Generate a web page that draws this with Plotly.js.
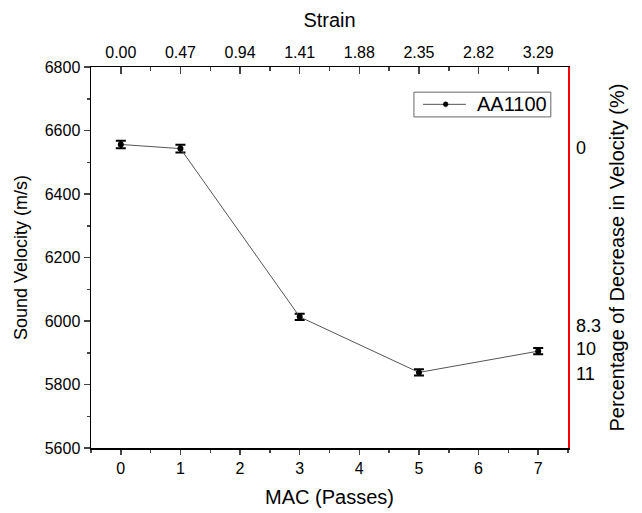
<!DOCTYPE html>
<html><head><meta charset="utf-8">
<script src="https://cdn.plot.ly/plotly-3.0.1.min.js"></script>
<style>html,body{margin:0;padding:0;background:#fff}</style>
</head><body><div id="chart" style="width:642px;height:513px"></div>
<script>
const passes = [0, 1, 3, 5, 7];
const velocity = [6556, 6543, 6013, 5838, 5905];
const velocityErr = [12, 12, 10, 10, 10];
const seriesName = 'AA1100';
const strainTickVals = [0, 1, 2, 3, 4, 5, 6, 7];
const strainLabels = ['0.00', '0.47', '0.94', '1.41', '1.88', '2.35', '2.82', '3.29'];
const decreaseVals = [6545, 5984, 5912, 5833];
const decreaseLabels = ['0', '8.3', '10', '11'];

const F = 'Liberation Sans, Arial, sans-serif';
const traces = [
  {x: passes, y: velocity, name: seriesName, type: 'scatter', mode: 'lines+markers', showlegend: false,
   line: {color: '#555', width: 1}, marker: {color: '#000', size: 6},
   error_y: {type: 'data', array: velocityErr, visible: true, color: '#000', thickness: 2, width: 5}},
  {x: [0], y: [6556], xaxis: 'x2', yaxis: 'y2', showlegend: false, mode: 'markers',
   marker: {opacity: 0}, hoverinfo: 'skip'}
];
// manual legend (box, sample line, sample marker, label) in paper coordinates
const legendShapes = [
  {type: 'rect', xref: 'paper', yref: 'paper', x0: 0.677, x1: 0.964, y0: 0.869, y1: 0.934,
   line: {color: '#666', width: 1}, fillcolor: '#fff'},
  {type: 'line', xref: 'paper', yref: 'paper', x0: 0.696, x1: 0.786, y0: 0.902, y1: 0.902,
   line: {color: '#555', width: 1}},
  {type: 'circle', xref: 'paper', yref: 'paper', x0: 0.7385, x1: 0.7485, y0: 0.8955, y1: 0.9085,
   line: {color: '#000', width: 0.5}, fillcolor: '#000'}
];
const layout = {
  width: 642, height: 513,
  margin: {l: 91, r: 74, t: 67, b: 65},
  paper_bgcolor: '#fff', plot_bgcolor: '#fff',
  font: {family: F, color: '#000', size: 16},
  showlegend: false,
  shapes: legendShapes,
  annotations: [{xref: 'paper', yref: 'paper', x: 0.805, y: 0.903, xanchor: 'left', yanchor: 'middle',
    text: seriesName, showarrow: false, font: {size: 20, family: F, color: '#000'}}],
  xaxis: {range: [-0.5, 7.5], tickvals: [0,1,2,3,4,5,6,7], ticks: 'outside', ticklen: 5, tickwidth: 1.5,
    showline: true, linecolor: '#000', linewidth: 1.5, showgrid: false, zeroline: false,
    minor: {dtick: 0.5, ticks: 'outside', ticklen: 3, tickwidth: 1.5, tick0: 0},
    tickfont: {size: 16}, title: {text: 'MAC (Passes)', font: {size: 20}, standoff: 14}},
  xaxis2: {overlaying: 'x', side: 'top', range: [-0.5, 7.5], tickvals: strainTickVals, ticktext: strainLabels,
    ticks: 'inside', ticklen: 7, tickwidth: 1.5, showline: true, linecolor: '#000', linewidth: 1.5,
    showgrid: false, zeroline: false, minor: {dtick: 0.5, ticks: 'inside', ticklen: 4, tickwidth: 1.5, tick0: 0},
    tickfont: {size: 16}, ticklabelstandoff: 1, title: {text: 'Strain', font: {size: 20}, standoff: 11}},
  yaxis: {range: [5600, 6800], dtick: 200, ticks: 'outside', ticklen: 6, tickwidth: 1.5,
    showline: true, linecolor: '#000', linewidth: 1.5, showgrid: false, zeroline: false,
    minor: {dtick: 100, ticks: 'outside', ticklen: 3, tickwidth: 1.5},
    tickfont: {size: 16}, title: {text: 'Sound Velocity (m/s)', font: {size: 18}, standoff: 12}},
  yaxis2: {overlaying: 'y', side: 'right', range: [5600, 6800], tickvals: decreaseVals, ticktext: decreaseLabels,
    ticks: '', showline: true, linecolor: '#ff0000', linewidth: 1.5, showgrid: false, zeroline: false,
    ticklabelstandoff: 3,
    tickfont: {size: 18}, title: {text: 'Percentage of Decrease in Velocity (%)', font: {size: 20}, standoff: 10}}
};
Plotly.newPlot('chart', traces, layout, {displayModeBar: false, staticPlot: true});
</script></body></html>
